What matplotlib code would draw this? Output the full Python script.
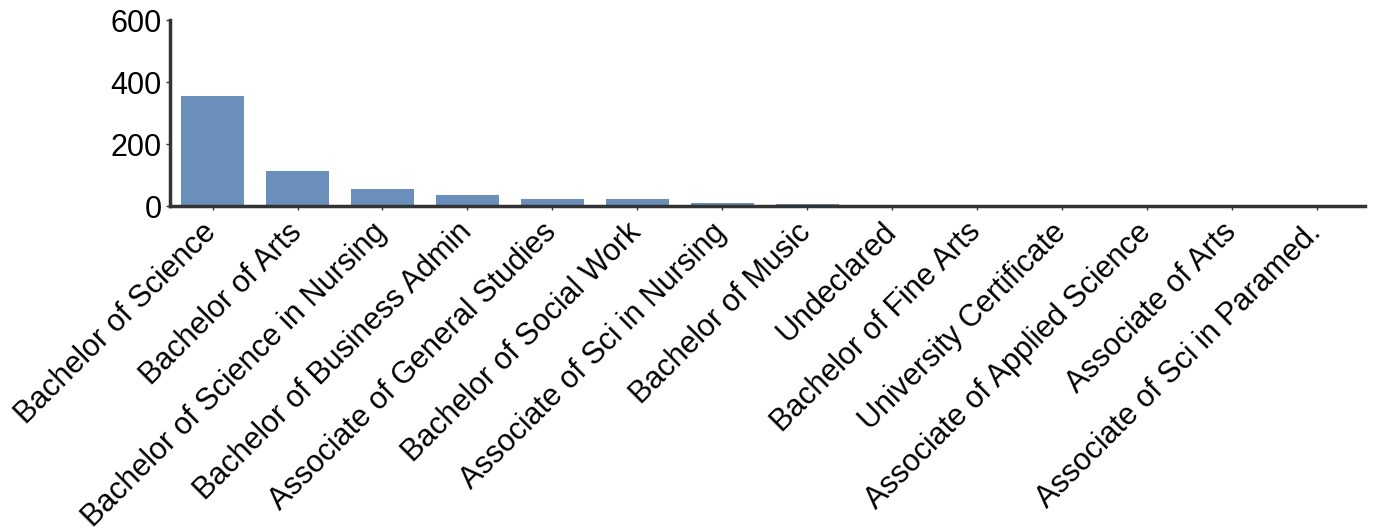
import matplotlib
matplotlib.use('Agg')
import matplotlib.pyplot as plt
import matplotlib.transforms as mtransforms

degrees = ['Bachelor of Science', 'Bachelor of Arts', 'Bachelor of Science in Nursing',
           'Bachelor of Business Admin', 'Associate of General Studies', 'Bachelor of Social Work',
           'Associate of Sci in Nursing', 'Bachelor of Music', 'Undeclared', 'Bachelor of Fine Arts',
           'University Certificate', 'Associate of Applied Science', 'Associate of Arts',
           'Associate of Sci in Paramed.']
counts = [356, 112, 56, 35, 22, 22, 10, 6, 1, 1, 1, 1, 1, 1]
yticks = [0, 200, 400, 600]

plt.rcParams['font.family'] = ['Liberation Sans', 'DejaVu Sans']

fig = plt.figure(figsize=(13.77, 5.31), dpi=100)
ax = fig.add_axes([0.1235, 0.612, 0.8675, 0.35])

x = list(range(len(degrees)))
ax.bar(x, counts, width=0.74, color='#6a8fba')

ax.set_xlim(-0.5, len(degrees) - 0.44)
ax.set_ylim(0, 600)
ax.set_yticks(yticks)
ax.set_xticks(x)
ax.set_xticklabels(degrees, rotation=45, ha='right', rotation_mode='anchor')
ax.tick_params(axis='both', labelsize=22, colors='#333333', labelcolor='black',
               length=3, width=1)
ax.tick_params(axis='x', pad=5)
ax.tick_params(axis='y', pad=3)

# nudge rotated labels left so their ends sit under the ticks
off = mtransforms.ScaledTranslation(-11 / 100, 0, fig.dpi_scale_trans)
for lbl in ax.get_xticklabels():
    lbl.set_transform(lbl.get_transform() + off)

for s in ['top', 'right']:
    ax.spines[s].set_visible(False)
for s in ['left', 'bottom']:
    ax.spines[s].set_linewidth(2.5)
    ax.spines[s].set_color('#333333')

fig.savefig('out.png', dpi=100)
